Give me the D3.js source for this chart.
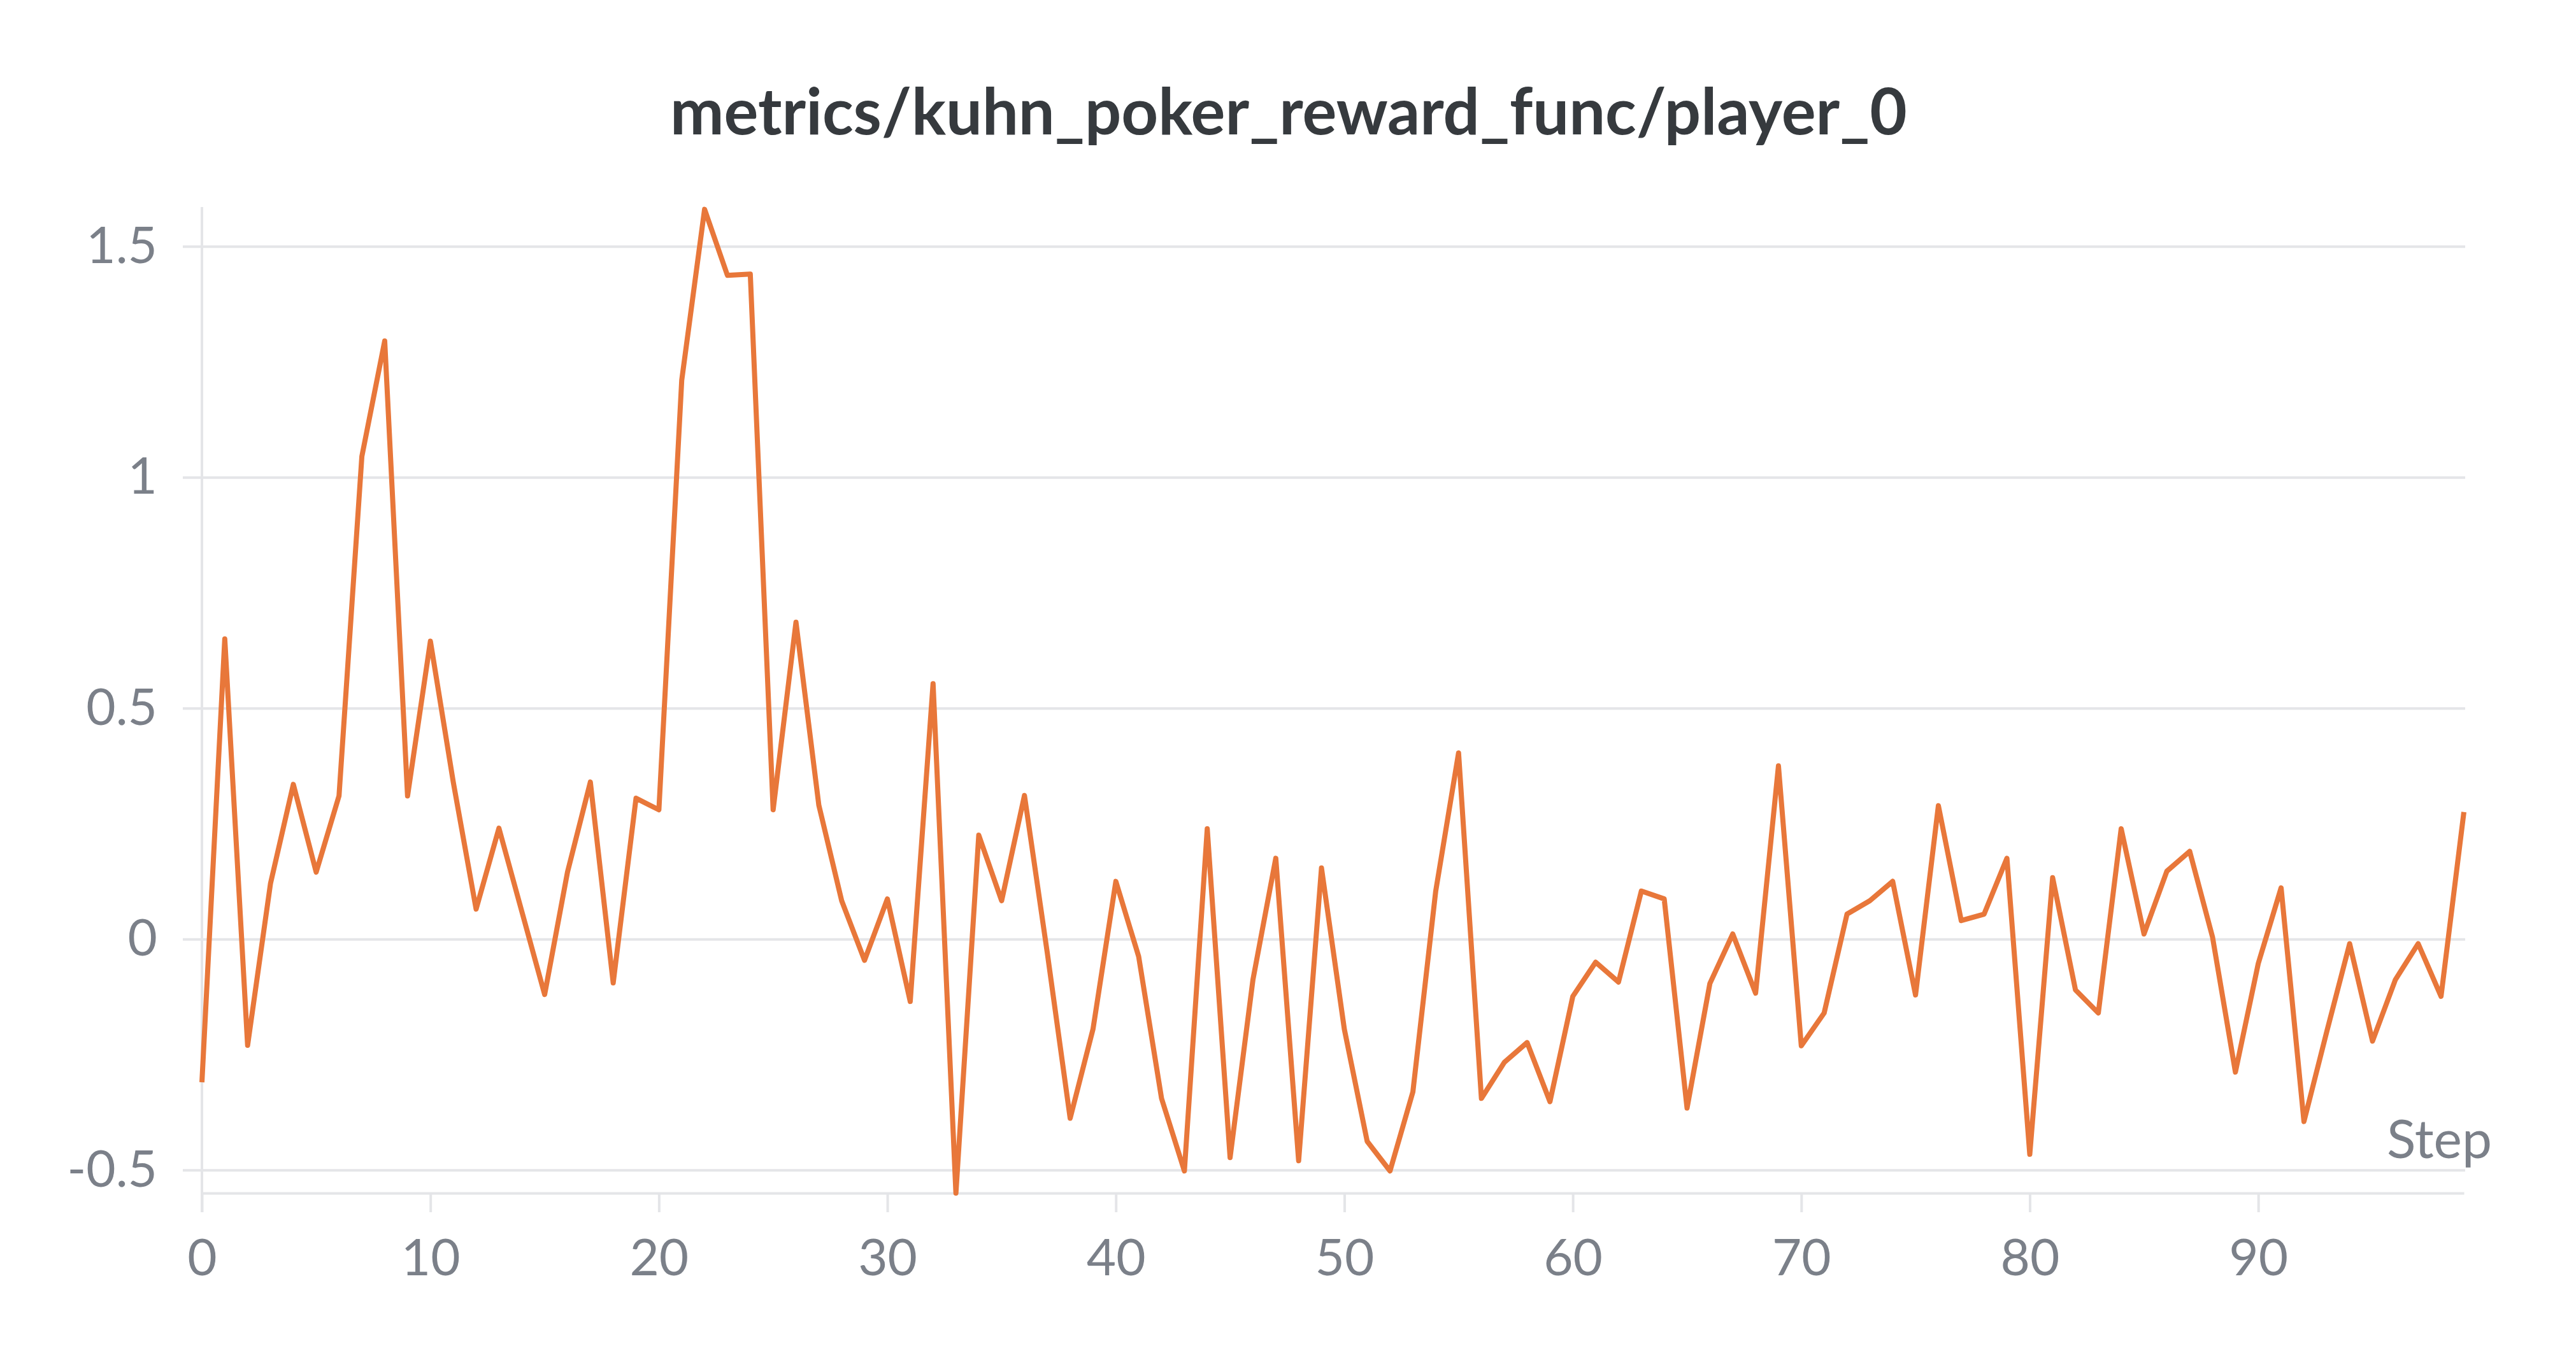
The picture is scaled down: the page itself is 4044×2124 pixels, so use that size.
<!DOCTYPE html>
<meta charset="utf-8">
<style>
body {
  margin: 0;
  background: #fff;
  font-family: Lato, "Open Sans", sans-serif;
}
.tick text {
  fill: #7b8089;
  font-family: Lato, "Open Sans", sans-serif;
  font-size: 80px;
}
.grid line, .axis-line {
  stroke: #e4e5e8;
  stroke-width: 4;
}
path.reward {
  fill: none;
  stroke: #e8773a;
  stroke-width: 8;
  stroke-linejoin: round;
}
</style>
<body>
<script src="https://cdn.jsdelivr.net/npm/d3@7"></script>
<script>

var width = 4044,
    height = 2124;

// reward per step (step = index)
var reward = [
  -0.31, 0.65, -0.23, 0.12, 0.335, 0.145, 0.31, 1.045, 1.295, 0.31,
  0.645, 0.34, 0.065, 0.24, 0.06, -0.12, 0.145, 0.34, -0.095, 0.305,
  0.28, 1.21, 1.58, 1.437, 1.44, 0.28, 0.686, 0.29, 0.083, -0.046,
  0.087, -0.135, 0.553, -0.55, 0.225, 0.083, 0.311, -0.03, -0.388, -0.195,
  0.125, -0.038, -0.345, -0.502, 0.239, -0.473, -0.088, 0.175, -0.48, 0.154,
  -0.195, -0.438, -0.502, -0.331, 0.104, 0.403, -0.345, -0.267, -0.224, -0.352,
  -0.124, -0.05, -0.093, 0.104, 0.087, -0.366, -0.096, 0.011, -0.117, 0.375,
  -0.231, -0.16, 0.054, 0.083, 0.125, -0.121, 0.289, 0.04, 0.054, 0.175,
  -0.466, 0.133, -0.11, -0.16, 0.239, 0.011, 0.147, 0.19, 0.004, -0.288,
  -0.053, 0.111, -0.395, -0.2, -0.01, -0.221, -0.088, -0.01, -0.124, 0.275
];

var xTicks = [0, 10, 20, 30, 40, 50, 60, 70, 80, 90];
var yTicks = [-0.5, 0, 0.5, 1, 1.5];

var title = "metrics/kuhn_poker_reward_func/player_0";

var plot = {left: 317, right: 3868, top: 325, bottom: 1873};

var x = d3.scaleLinear().domain([0, 99]).range([plot.left, plot.right]);
var y = d3.scaleLinear().domain([-0.55, 1.585]).range([plot.bottom, plot.top]);

var svg = d3.select("body").append("svg")
    .attr("width", width)
    .attr("height", height);

// horizontal grid + y labels
var yAxis = d3.axisLeft(y)
    .tickValues(yTicks)
    .tickFormat(function(d) { return String(d); })
    .tickSizeInner(-(3870 - 287))
    .tickSizeOuter(0)
    .tickPadding(40);

svg.append("g")
    .attr("class", "grid")
    .attr("transform", "translate(287,0)")
    .call(yAxis)
    .call(function(g) { g.select(".domain").remove(); });

// x axis
var xAxis = d3.axisBottom(x)
    .tickValues(xTicks)
    .tickSizeInner(30)
    .tickSizeOuter(0)
    .tickPadding(42);

svg.append("g")
    .attr("class", "grid")
    .attr("transform", "translate(0," + plot.bottom + ")")
    .call(xAxis)
    .call(function(g) {
      g.select(".domain").attr("stroke", "#e4e5e8").attr("stroke-width", 4);
    });

svg.append("line")
    .attr("class", "axis-line")
    .attr("x1", plot.left).attr("x2", plot.left)
    .attr("y1", plot.top).attr("y2", 1903);

var line = d3.line()
    .x(function(d, i) { return x(i); })
    .y(function(d) { return y(d); });

svg.append("path")
    .datum(reward)
    .attr("class", "reward")
    .attr("d", line);

svg.append("text")
    .attr("x", 3912)
    .attr("y", 1818)
    .attr("text-anchor", "end")
    .style("fill", "#7b8089")
    .style("font-size", "84px")
    .text("Step");

var t = svg.append("text")
    .attr("x", 2023)
    .attr("y", 211)
    .attr("text-anchor", "middle")
    .style("fill", "#363a3e")
    .style("font-weight", "bold")
    .style("font-size", "100px")
    .text(title);

// fit title to the width it has in the original
var len = t.node().getComputedTextLength();
t.style("font-size", (100 * 1942 / len) + "px");

</script>
